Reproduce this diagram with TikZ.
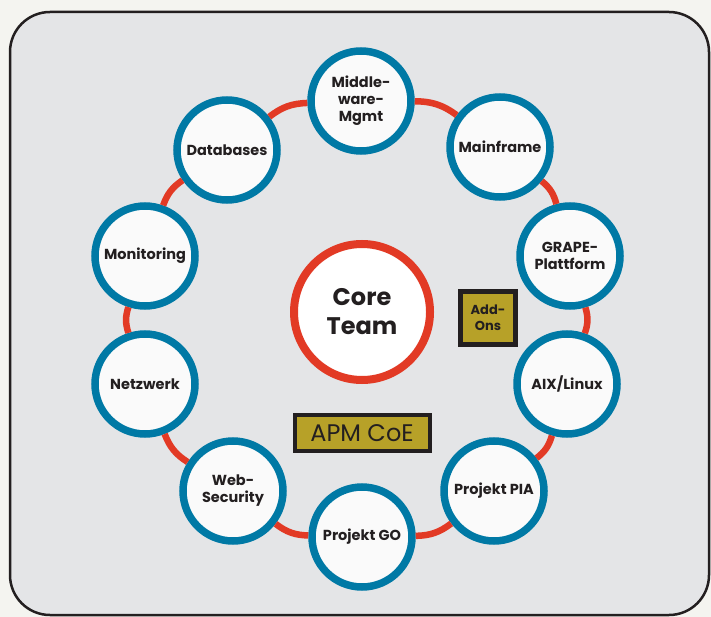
\documentclass[tikz,border=0pt]{standalone}
\usepackage{fontspec}
\setmainfont{Poppins}
\usepackage{tikz}
\usetikzlibrary{shapes.geometric, arrows}
\definecolor{ringred}{HTML}{E23A25}
\definecolor{ringblue}{HTML}{0079A5}
\definecolor{panelgray}{HTML}{E4E5E7}
\definecolor{pagebg}{HTML}{F4F4F0}
\definecolor{olive}{HTML}{B7A128}
\definecolor{inkdark}{HTML}{231F20}
\tikzstyle{member} = [circle, minimum size=100pt, inner sep=0pt, align=center, draw=ringblue, line width=7.5pt, fill=white!96!gray, text=inkdark, font=\fontsize{14.5}{17}\selectfont\bfseries]
\tikzstyle{core} = [circle, minimum size=136pt, inner sep=0pt, align=center, draw=ringred, line width=8pt, fill=white, text=inkdark, font=\fontsize{24}{29}\selectfont\bfseries]
\tikzstyle{tag} = [rectangle, draw=inkdark, fill=olive, text=inkdark, align=center]
\tikzstyle{link} = [line width=6.5pt, ringred]

\begin{document}
\begin{tikzpicture}[x=1pt, y=-1pt]
        \useasboundingbox[fill=pagebg] (0,0) rectangle (711,617);
        \draw[fill=panelgray, draw=inkdark, line width=2.5pt, rounded corners=40pt] (10,12) rectangle (709,615);

        \node (mw) [member] at (361,101) {Middle-\\ware-\\Mgmt};
        \node (mf) [member] at (500,147) {Mainframe};
        \node (gr) [member] at (570,256) {GRAPE-\\Plattform};
        \node (aix) [member] at (567,384) {AIX/Linux};
        \node (pia) [member] at (494,491) {Projekt PIA};
        \node (go) [member] at (362,537) {Projekt GO};
        \node (web) [member] at (233,491) {Web-\\Security};
        \node (nw) [member] at (145,384) {Netzwerk};
        \node (mon) [member] at (145,256) {Monitoring};
        \node (db) [member] at (227,150) {Databases};

        \draw [link] (mw) to[bend left=18] (mf);
        \draw [link] (mf) to[bend left=18] (gr);
        \draw [link] (gr) to[bend left=18] (aix);
        \draw [link] (aix) to[bend left=18] (pia);
        \draw [link] (pia) to[bend left=18] (go);
        \draw [link] (go) to[bend left=18] (web);
        \draw [link] (web) to[bend left=18] (nw);
        \draw [link] (nw) to[bend left=18] (mon);
        \draw [link] (mon) to[bend left=18] (db);
        \draw [link] (db) to[bend left=18] (mw);

        \node (core) [core] at (362,312) {Core\\Team};
        \node (addons) [tag, line width=5pt, minimum width=55pt, minimum height=53pt, inner sep=0pt, font=\fontsize{13}{16}\selectfont\bfseries] at (488,318) {Add-\\Ons};
        \node (apm) [tag, line width=4pt, minimum width=135pt, minimum height=36pt, inner sep=0pt, font=\fontsize{24}{26}\selectfont] at (362,433) {APM CoE};
    \end{tikzpicture}
\end{document}
